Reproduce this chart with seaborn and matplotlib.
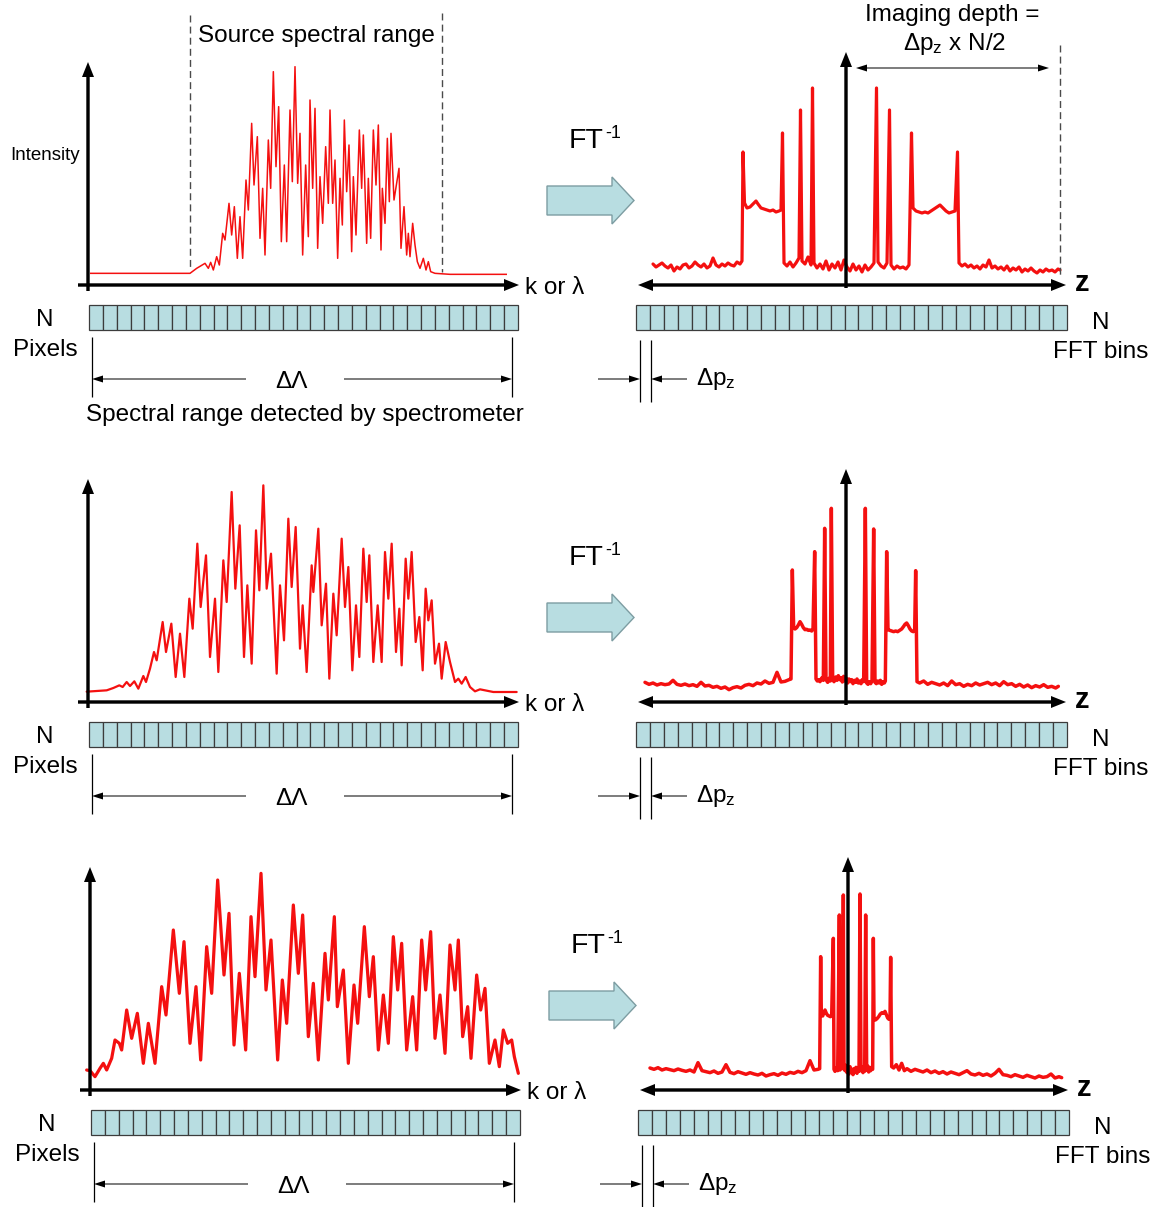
import matplotlib
matplotlib.use("Agg")
import matplotlib.pyplot as plt
import seaborn as sns
from matplotlib.patches import Rectangle, Polygon, FancyArrow

# ---------------------------------------------------------------- data
# Detected spectra: (wavenumber sample, intensity) pairs, arbitrary units
spec_top = [(30, 35), (330, 35), (350, 50), (375, 65), (385, 50), (392, 68), (400, 45), (410, 85),
            (418, 60), (428, 155), (435, 135), (447, 245), (455, 150), (463, 235), (472, 80),
            (480, 205), (488, 80), (498, 315), (505, 225), (515, 485), (522, 300), (532, 445),
            (540, 140), (548, 290), (555, 90), (565, 435), (572, 290), (580, 640), (588, 355),
            (596, 535), (604, 130), (613, 360), (620, 130), (630, 525), (637, 310), (645, 655),
            (653, 305), (660, 455), (668, 90), (677, 360), (685, 145), (690, 555), (698, 290),
            (705, 530), (713, 110), (720, 325), (728, 185), (737, 415), (745, 245), (750, 525),
            (758, 245), (765, 375), (773, 80), (780, 320), (787, 180), (793, 495), (800, 280),
            (807, 420), (815, 100), (820, 325), (828, 150), (838, 465), (845, 290), (850, 450),
            (860, 125), (865, 320), (872, 140), (880, 465), (888, 300), (895, 480), (903, 105),
            (907, 290), (915, 185), (922, 440), (928, 250), (933, 455), (942, 255), (957, 350),
            (963, 110), (972, 235), (980, 90), (985, 155), (990, 85), (998, 185), (1005, 120),
            (1012, 70), (1020, 50), (1030, 80), (1038, 45), (1045, 70), (1052, 40), (1065, 35),
            (1110, 32), (1281, 32)]

spec_mid = [(20, 31), (80, 35), (100, 42), (118, 50), (128, 45), (140, 60), (150, 48), (163, 62),
            (175, 40), (190, 78), (198, 60), (210, 100), (222, 150), (230, 125), (248, 240),
            (258, 150), (274, 235), (287, 75), (300, 205), (313, 75), (328, 310), (338, 220),
            (352, 475), (362, 285), (378, 440), (390, 135), (405, 310), (415, 90), (430, 425),
            (440, 300), (455, 630), (466, 340), (479, 530), (492, 135), (502, 350), (515, 115),
            (528, 515), (538, 335), (550, 650), (560, 340), (573, 445), (590, 85), (600, 350),
            (612, 185), (625, 550), (635, 345), (647, 525), (660, 160), (668, 290), (680, 90),
            (695, 410), (700, 330), (715, 520), (725, 230), (738, 355), (748, 70), (760, 325),
            (770, 200), (785, 490), (795, 285), (805, 405), (817, 95), (828, 290), (838, 135),
            (850, 460), (860, 300), (868, 440), (880, 120), (893, 290), (905, 120), (915, 450),
            (925, 310), (935, 475), (948, 150), (958, 280), (965, 110), (977, 430), (985, 310),
            (995, 450), (1007, 180), (1018, 255), (1028, 95), (1037, 340), (1045, 245),
            (1055, 305), (1065, 115), (1077, 175), (1085, 70), (1097, 180), (1110, 120),
            (1125, 60), (1135, 70), (1145, 55), (1157, 75), (1170, 45), (1185, 32), (1200, 38),
            (1215, 35), (1240, 30), (1310, 30)]

spec_bot = [(20, 60), (30, 58), (45, 40), (60, 65), (70, 80), (80, 60), (95, 95), (105, 150),
            (118, 140), (125, 120), (140, 240), (155, 155), (172, 230), (190, 80), (205, 200),
            (225, 80), (245, 310), (258, 225), (280, 480), (298, 290), (312, 445), (330, 140),
            (348, 310), (362, 90), (380, 430), (395, 290), (413, 630), (432, 345), (447, 530),
            (462, 135), (478, 350), (497, 120), (513, 520), (525, 340), (543, 650), (558, 300),
            (573, 450), (593, 90), (607, 330), (620, 200), (640, 555), (655, 350), (668, 525),
            (685, 160), (700, 320), (715, 90), (735, 410), (745, 270), (763, 520), (772, 250),
            (790, 360), (805, 80), (822, 315), (833, 200), (853, 490), (868, 280), (880, 400),
            (895, 120), (910, 285), (925, 140), (940, 460), (953, 300), (965, 440), (980, 120),
            (998, 280), (1010, 120), (1025, 450), (1037, 300), (1052, 475), (1065, 155),
            (1080, 285), (1095, 110), (1110, 435), (1125, 300), (1135, 450), (1148, 160),
            (1163, 250), (1173, 95), (1190, 345), (1202, 240), (1215, 305), (1228, 80),
            (1245, 150), (1258, 70), (1270, 180), (1283, 140), (1295, 150), (1303, 100),
            (1315, 50)]

# Inverse-FFT depth profiles: (depth bin from zero delay, magnitude), arbitrary units
fft_top = [(-193, 21), (-190, 18), (-187, 20), (-184, 22), (-181, 19), (-178, 17), (-175, 20),
           (-172, 14), (-169, 18), (-166, 16), (-163, 20), (-160, 21), (-157, 17), (-154, 19),
           (-151, 23), (-148, 20), (-145, 18), (-142, 21), (-139, 17), (-136, 19), (-133, 27),
           (-130, 20), (-127, 18), (-124, 21), (-121, 19), (-118, 22), (-115, 20), (-112, 19),
           (-109, 23), (-106, 21), (-104, 24), (-103, 133), (-101.5, 82), (-99, 77), (-96, 78),
           (-93, 81), (-90, 84), (-88, 81), (-85, 77), (-82, 76), (-79, 75), (-76, 74), (-73, 75),
           (-70, 73), (-67, 74), (-65, 75), (-63.5, 152), (-62, 22), (-59, 19), (-56, 23),
           (-53, 18), (-50, 22), (-47, 27), (-45.5, 175), (-44, 24), (-41, 21), (-38, 28),
           (-35, 20), (-33.5, 197), (-32, 22), (-29, 17), (-26, 21), (-23, 16), (-20, 24),
           (-17, 15), (-14, 21), (-11, 17), (-8, 23), (-5, 15), (-2, 25), (1, 18), (4, 14),
           (7, 21), (10, 15), (13, 19), (16, 13), (19, 20), (22, 15), (25, 18), (28, 22),
           (30.5, 197), (32, 23), (35, 19), (38, 17), (41, 22), (43.5, 175), (45, 20), (48, 16),
           (51, 19), (54, 17), (57, 18), (60, 16), (63, 20), (65.5, 152), (67, 77), (70, 74),
           (73, 73), (76, 72), (79, 73), (82, 72), (85, 74), (88, 76), (91, 78), (94, 80),
           (97, 77), (100, 74), (103, 72), (106, 73), (109, 74), (111.5, 133), (113, 22),
           (116, 19), (119, 21), (122, 18), (125, 20), (128, 17), (131, 19), (134, 16), (137, 20),
           (140, 18), (143, 25), (146, 17), (149, 19), (152, 16), (155, 18), (158, 15), (161, 19),
           (164, 14), (167, 17), (170, 15), (173, 18), (176, 13), (179, 16), (182, 14), (185, 17),
           (188, 14), (191, 12), (194, 15), (197, 13), (200, 16), (203, 14), (206, 15), (209, 13),
           (212, 16), (214, 15)]

fft_mid = [(-600, 62), (-588, 56), (-576, 60), (-564, 54), (-552, 58), (-540, 55), (-528, 57),
           (-516, 68), (-504, 56), (-492, 53), (-480, 57), (-468, 52), (-456, 55), (-444, 50),
           (-432, 62), (-420, 51), (-408, 53), (-396, 47), (-384, 50), (-372, 44), (-360, 48),
           (-348, 40), (-336, 46), (-324, 49), (-312, 45), (-300, 53), (-288, 56), (-276, 52),
           (-264, 60), (-252, 57), (-240, 66), (-228, 59), (-216, 62), (-204, 92), (-192, 63),
           (-180, 65), (-168, 70), (-162, 72), (-158, 399), (-154, 225), (-150, 222), (-145, 226),
           (-140, 234), (-135, 244), (-130, 236), (-125, 226), (-120, 220), (-115, 221),
           (-110, 218), (-105, 219), (-100, 216), (-96, 222), (-91, 454), (-87, 72), (-83, 66),
           (-79, 70), (-75, 64), (-70, 75), (-65, 68), (-61, 524), (-57, 70), (-52, 62), (-48, 74),
           (-44, 66), (-41, 584), (-37, 72), (-33, 64), (-28, 78), (-24, 68), (-20, 82), (-16, 70),
           (-12, 76), (-8, 63), (-4, 80), (0, 66), (4, 74), (8, 60), (12, 72), (16, 64), (20, 70),
           (24, 58), (28, 68), (32, 62), (36, 72), (40, 60), (44, 66), (48, 58), (52, 70), (56, 64),
           (61, 584), (65, 60), (69, 56), (73, 64), (77, 58), (81, 66), (86, 522), (90, 62),
           (94, 58), (98, 66), (102, 60), (106, 68), (110, 56), (114, 64), (118, 60), (121, 66),
           (125, 454), (129, 220), (134, 218), (140, 216), (146, 214), (152, 216), (158, 214),
           (164, 218), (170, 222), (176, 230), (180, 236), (185, 240), (190, 232), (195, 222),
           (200, 216), (205, 214), (209, 218), (212, 397), (216, 64), (224, 60), (236, 66),
           (248, 56), (260, 62), (272, 58), (284, 54), (296, 60), (308, 52), (320, 66), (332, 55),
           (344, 58), (356, 50), (368, 56), (380, 52), (392, 60), (404, 54), (416, 58), (428, 62),
           (440, 55), (452, 60), (464, 52), (476, 64), (488, 55), (500, 58), (512, 50), (524, 56),
           (536, 48), (548, 54), (560, 46), (572, 52), (584, 48), (596, 55), (608, 47), (620, 50),
           (632, 45), (640, 50)]

fft_bot = [(-595, 66), (-583, 62), (-571, 67), (-559, 60), (-547, 64), (-535, 61), (-523, 58),
           (-511, 63), (-499, 59), (-487, 56), (-475, 60), (-463, 54), (-451, 82), (-439, 58),
           (-427, 55), (-415, 52), (-403, 57), (-391, 50), (-379, 54), (-367, 76), (-355, 53),
           (-343, 49), (-331, 55), (-319, 51), (-307, 47), (-295, 52), (-283, 48), (-271, 45),
           (-259, 50), (-247, 42), (-235, 46), (-223, 49), (-211, 44), (-199, 51), (-187, 47),
           (-175, 53), (-163, 50), (-151, 56), (-139, 52), (-127, 58), (-115, 88), (-103, 60),
           (-91, 62), (-86, 64), (-83, 400), (-81, 225), (-77, 222), (-73, 232), (-70, 240),
           (-66, 230), (-62, 224), (-58, 222), (-54, 220), (-50, 222), (-45, 455), (-43, 62),
           (-40, 56), (-36, 66), (-32, 58), (-27, 525), (-25, 60), (-21, 72), (-18, 64), (-15, 585),
           (-13, 70), (-10, 58), (-7, 74), (-4, 52), (-1, 66), (2, 48), (5, 70), (8, 56), (11, 62),
           (14, 46), (17, 64), (20, 54), (23, 68), (26, 50), (29, 60), (32, 56), (35, 588),
           (38, 58), (41, 70), (44, 52), (47, 66), (49, 56), (52, 525), (55, 60), (58, 72),
           (61, 54), (64, 68), (67, 58), (70, 64), (73, 62), (75, 455), (77, 212), (81, 210),
           (86, 214), (91, 220), (96, 228), (101, 232), (106, 230), (110, 236), (114, 226),
           (118, 216), (122, 212), (125, 214), (127, 398), (130, 70), (136, 66), (144, 76),
           (152, 60), (160, 80), (168, 58), (176, 64), (188, 56), (200, 62), (212, 58), (224, 54),
           (236, 60), (248, 52), (260, 57), (272, 50), (284, 55), (296, 48), (308, 54), (320, 50),
           (332, 46), (344, 52), (356, 58), (368, 48), (380, 45), (392, 50), (404, 44), (416, 48),
           (428, 42), (440, 50), (452, 62), (464, 46), (476, 44), (488, 40), (500, 46), (512, 42),
           (524, 38), (536, 44), (548, 40), (560, 36), (572, 42), (584, 38), (596, 40), (608, 48),
           (620, 36), (632, 40), (640, 37)]

n_pixels = 31          # detector pixels / FFT bins drawn in each strip
row_offsets = [(0, 0), (0, 417), (2, 805)]

# ---------------------------------------------------------------- style
W, H = 1156, 1207
RED = "#f41010"
BAR = "#b8dde1"
sns.set_theme(style="white")
plt.rcParams["font.family"] = ["Liberation Sans", "DejaVu Sans"]
plt.rcParams["mathtext.fontset"] = "custom"
plt.rcParams["mathtext.rm"] = "Liberation Sans"
plt.rcParams["mathtext.it"] = "Liberation Sans:italic"
plt.rcParams["mathtext.bf"] = "Liberation Sans:bold"

fig = plt.figure(figsize=(W / 100, H / 100), dpi=100)
fig.patch.set_facecolor("white")


def px_axes(x0, x1, ytop, ybot):
    ax = fig.add_axes([x0 / W, 1 - ybot / H, (x1 - x0) / W, (ybot - ytop) / H])
    ax.set_axis_off()
    ax.patch.set_alpha(0)
    return ax


def curve(data, rect, xlim, ylim, lw):
    ax = px_axes(*rect)
    xs, ys = zip(*data)
    sns.lineplot(x=list(xs), y=list(ys), ax=ax, color=RED, linewidth=lw,
                 estimator=None, sort=False, solid_joinstyle="round")
    ax.set_xlim(*xlim)
    ax.set_ylim(*ylim)
    ax.set_axis_off()


# spectra (left column) and depth profiles (right column)
curve(spec_top, (90, 507, 55, 285), (30, 1281), (0, 690), 1.1)
curve(spec_mid, (80, 525, 470, 702), (0, 1335), (0, 696), 1.6)
curve(spec_bot, (80, 530, 850, 1090), (0, 1350), (0, 720), 2.3)
curve(fft_top, (646, 1066, 45, 285), (-200, 220), (0, 240), 2.3)
curve(fft_mid, (640, 1070, 460, 703), (-615, 675), (0, 729), 2.5)
curve(fft_bot, (640, 1070, 850, 1090), (-625, 665), (0, 720), 2.5)

# overlay in pixel units for the schematic
ov = fig.add_axes([0, 0, 1, 1])
ov.set_xlim(0, W)
ov.set_ylim(H, 0)
ov.set_axis_off()
ov.patch.set_alpha(0)
ov.set_zorder(5)


def arrow(x0, y0, x1, y1, thick=False):
    if thick:
        kw = dict(width=3.4, head_width=12, head_length=15)
    else:
        kw = dict(width=1.0, head_width=7, head_length=11)
    ov.add_patch(FancyArrow(x0, y0, x1 - x0, y1 - y0, length_includes_head=True,
                            color="black", lw=0, **kw))


def vline(x, y0, y1, **kw):
    ov.plot([x, x], [y0, y1], color=kw.pop("color", "black"), lw=kw.pop("lw", 0.9),
            solid_capstyle="butt", **kw)


def text(x, y, s, size=17.5, ha="center", va="center", **kw):
    ov.text(x, y, s, fontsize=size, ha=ha, va=va, color="black", **kw)


def strip(x0, x1, y0, y1):
    w = (x1 - x0) / n_pixels
    for i in range(n_pixels):
        ov.add_patch(Rectangle((x0 + i * w, y0), w, y1 - y0, facecolor=BAR,
                               edgecolor="#3c3c3c", lw=0.9))


for dx, dy in row_offsets:
    # spectrum axes
    arrow(88 + dx, 291 + dy, 88 + dx, 62 + dy, thick=True)
    arrow(78 + dx, 285 + dy, 519 + dx, 285 + dy, thick=True)
    text(525 + dx, 288 + dy, "k or λ", ha="left")
    strip(89 + dx, 518 + dx, 305 + dy, 330 + dy)
    text(45 + dx, 320 + dy, "N")
    text(45 + dx, 350 + dy, "Pixels")
    vline(92 + dx, 337 + dy, 397 + dy)
    vline(512 + dx, 337 + dy, 397 + dy)
    arrow(246 + dx, 379 + dy, 92 + dx, 379 + dy)
    arrow(344 + dx, 379 + dy, 512 + dx, 379 + dy)
    text(292 + dx, 382 + dy, "ΔΛ")

    # transform arrow
    pts = [(547, 186), (612, 186), (612, 177), (634, 200.5), (612, 224), (612, 215), (547, 215)]
    ov.add_patch(Polygon([(px + dx, py + dy) for px, py in pts], closed=True,
                         facecolor=BAR, edgecolor="#7d9da2", lw=1.0))
    text(569 + dx, 148 + dy, "FT", size=20.5, ha="left", va="baseline")
    text(605 + dx, 138 + dy, "-1", size=13, ha="left", va="baseline")

    # depth-profile axes
    arrow(846 + dx, 288 + dy, 846 + dx, 52 + dy, thick=True)
    arrow(846 + dx, 285 + dy, 1066 + dx, 285 + dy, thick=True)
    arrow(846 + dx, 285 + dy, 638 + dx, 285 + dy, thick=True)
    text(1075 + dx, 283 + dy, "z", size=21, ha="left", fontweight="bold")
    strip(636 + dx, 1067 + dx, 305 + dy, 330 + dy)
    text(1101 + dx, 323 + dy, "N")
    text(1101 + dx, 352 + dy, "FFT bins")
    vline(640 + dx, 340 + dy, 402 + dy)
    vline(651 + dx, 340 + dy, 402 + dy)
    arrow(598 + dx, 379 + dy, 640 + dx, 379 + dy)
    arrow(687 + dx, 379 + dy, 651 + dx, 379 + dy)
    text(696 + dx, 379 + dy, r"Δp$_{\mathregular{z}}$", ha="left")

# annotations on the first row only
text(10, 155, "Intensity", size=13.5, ha="left")
vline(190, 15, 270, color="#4a4a4a", lw=1.0, linestyle=(0, (5, 3)))
vline(441.5, 13, 272, color="#4a4a4a", lw=1.0, linestyle=(0, (5, 3)))
text(316, 36, "Source spectral range")
text(305, 415, "Spectral range detected by spectrometer")
text(952, 15, "Imaging depth =")
text(955, 44, r"Δp$_{\mathregular{z}}$ x N/2")
vline(1060, 45, 278, color="#4a4a4a", lw=1.0, linestyle=(0, (5, 3)))
arrow(952, 68, 856, 68)
arrow(952, 68, 1049, 68)

fig.savefig("out.png", dpi=100, facecolor="white")
